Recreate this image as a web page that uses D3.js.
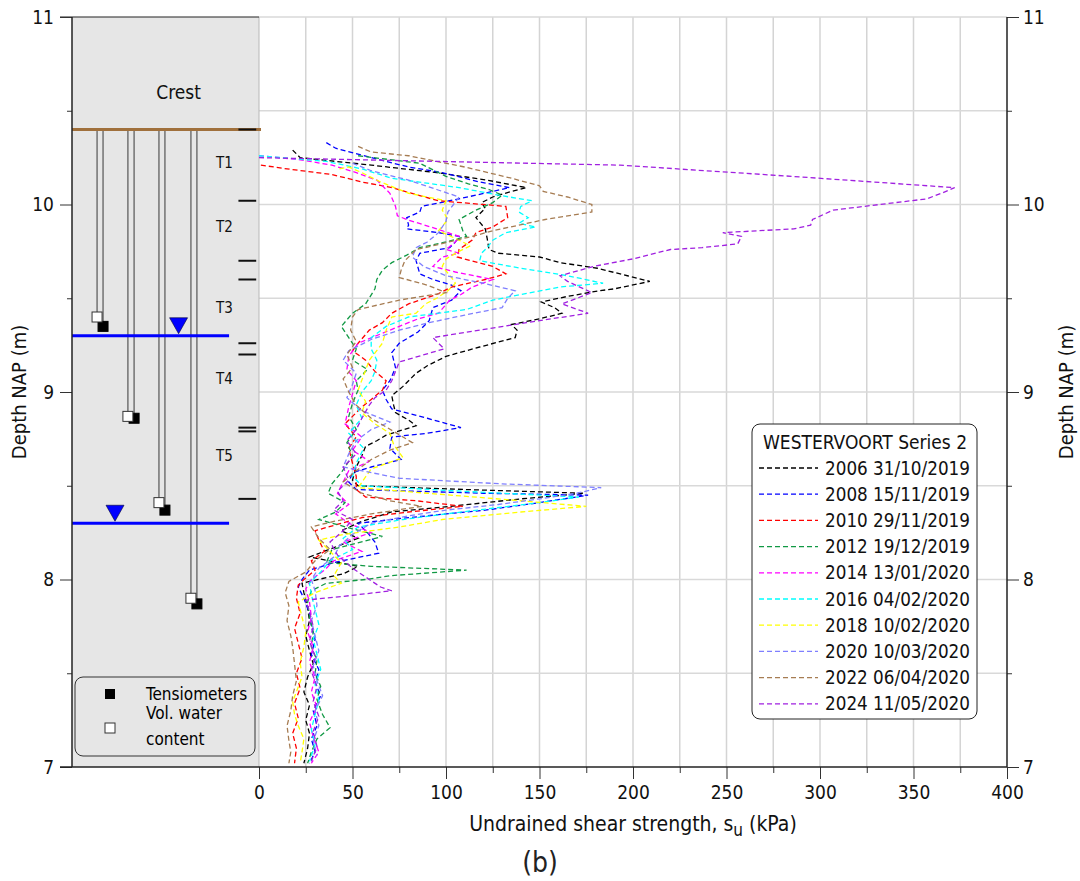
<!DOCTYPE html>
<html>
<head>
<meta charset="utf-8">
<script src="https://cdn.jsdelivr.net/npm/d3@7"></script>
<style>
  body { margin: 0; background: #fff; }
  svg { display: block; font-family: "DejaVu Sans Condensed", "DejaVu Sans", sans-serif; }
</style>
</head>
<body>
<div id="chart"></div>
<script>
// Series: [depth NAP (m), su (kPa)]
const s2006 = [[10.29,18],[10.25,22],[10.21,60],[10.17,95],[10.13,122],[10.09,143],[10.07,135],[10.04,125],[10.01,119],[9.98,121],[9.93,116],[9.87,121],[9.82,122],[9.76,123],[9.74,128],[9.72,150],[9.69,161],[9.66,181],[9.62,197],[9.59,209],[9.55,190],[9.54,182],[9.51,165],[9.48,151],[9.45,158],[9.42,162],[9.39,150],[9.36,135],[9.33,138],[9.29,137],[9.24,118],[9.19,100],[9.14,90],[9.10,84],[9.03,77],[8.98,71],[8.93,72],[8.89,73],[8.85,80],[8.82,84],[8.77,68],[8.74,63],[8.71,57],[8.66,55],[8.60,52],[8.53,50],[8.50,53],[8.48,110],[8.46,174],[8.43,140],[8.39,102],[8.36,71],[8.31,55],[8.26,44],[8.22,53],[8.17,40],[8.12,27],[8.07,53],[8.03,45],[8.01,36],[7.98,23],[7.93,24],[7.85,26],[7.78,27],[7.70,25],[7.62,27],[7.55,29],[7.48,26],[7.40,24],[7.33,27],[7.25,25],[7.18,27],[7.10,26],[7.02,24]];
const s2008 = [[10.33,36],[10.30,41],[10.25,60],[10.20,80],[10.17,98],[10.12,118],[10.09,134],[10.07,125],[10.03,107],[9.99,87],[9.96,86],[9.93,79],[9.89,80],[9.87,79],[9.85,96],[9.83,107],[9.80,105],[9.77,102],[9.74,86],[9.70,84],[9.63,86],[9.60,93],[9.57,103],[9.54,108],[9.49,103],[9.45,93],[9.38,91],[9.32,85],[9.26,75],[9.21,71],[9.13,73],[9.06,70],[9.01,66],[8.96,68],[8.91,71],[8.86,90],[8.81,108],[8.78,90],[8.76,71],[8.70,70],[8.64,76],[8.60,60],[8.57,50],[8.52,48],[8.48,52],[8.46,120],[8.45,176],[8.41,150],[8.37,121],[8.33,80],[8.30,53],[8.25,58],[8.20,62],[8.14,64],[8.09,40],[8.05,27],[8.00,23],[7.96,21],[7.90,24],[7.82,27],[7.75,28],[7.68,30],[7.60,28],[7.52,32],[7.45,30],[7.38,33],[7.30,29],[7.22,31],[7.15,28],[7.08,30],[7.02,27]];
const s2010 = [[10.21,1],[10.19,15],[10.16,39],[10.12,55],[10.09,71],[10.05,85],[10.02,96],[9.99,132],[9.93,133],[9.88,125],[9.85,116],[9.81,114],[9.76,107],[9.72,106],[9.67,125],[9.63,132],[9.60,121],[9.56,103],[9.52,95],[9.47,80],[9.42,71],[9.37,66],[9.33,59],[9.26,53],[9.22,50],[9.17,57],[9.11,62],[9.06,68],[9.01,66],[8.96,60],[8.92,55],[8.83,46],[8.76,52],[8.70,48],[8.62,50],[8.55,52],[8.48,52],[8.44,57],[8.42,84],[8.39,109],[8.36,80],[8.33,55],[8.30,44],[8.26,30],[8.21,32],[8.15,35],[8.10,28],[8.05,30],[8.00,24],[7.97,21],[7.90,20],[7.82,22],[7.74,19],[7.66,21],[7.58,23],[7.50,20],[7.42,22],[7.34,19],[7.26,21],[7.18,18],[7.10,20],[7.02,19]];
const s2012 = [[10.26,53],[10.22,86],[10.15,100],[10.11,112],[10.08,123],[10.05,130],[10.01,125],[9.97,116],[9.92,107],[9.86,109],[9.83,111],[9.80,100],[9.77,86],[9.73,79],[9.69,71],[9.65,66],[9.60,63],[9.55,62],[9.47,57],[9.42,50],[9.35,44],[9.29,48],[9.23,52],[9.17,50],[9.12,58],[9.06,52],[9.01,53],[8.94,50],[8.87,48],[8.80,52],[8.73,47],[8.66,50],[8.57,44],[8.51,39],[8.46,37],[8.41,46],[8.36,41],[8.32,32],[8.27,50],[8.23,66],[8.16,39],[8.09,36],[8.07,60],[8.05,111],[8.02,70],[8.00,57],[7.98,36],[7.94,28],[7.88,26],[7.80,27],[7.72,29],[7.64,28],[7.57,31],[7.50,30],[7.43,33],[7.36,31],[7.28,34],[7.21,38],[7.15,31],[7.08,28],[7.02,26]];
const s2014 = [[10.26,0],[10.24,21],[10.21,39],[10.17,52],[10.13,63],[10.06,70],[9.99,73],[9.94,74],[9.92,79],[9.87,95],[9.83,107],[9.80,105],[9.76,100],[9.74,107],[9.72,98],[9.67,93],[9.64,105],[9.60,125],[9.56,114],[9.52,108],[9.49,102],[9.42,96],[9.39,85],[9.33,70],[9.26,53],[9.19,48],[9.12,47],[9.06,52],[8.99,50],[8.92,48],[8.83,46],[8.76,55],[8.69,50],[8.63,59],[8.58,48],[8.52,45],[8.46,42],[8.40,48],[8.35,41],[8.30,48],[8.25,60],[8.20,45],[8.15,55],[8.10,40],[8.05,35],[8.00,28],[7.95,25],[7.88,27],[7.80,28],[7.72,26],[7.64,29],[7.56,27],[7.48,30],[7.40,28],[7.32,31],[7.24,27],[7.16,29],[7.08,32],[7.02,28]];
const s2016 = [[10.26,0],[10.23,36],[10.19,55],[10.14,71],[10.09,107],[10.05,128],[10.02,146],[9.99,140],[9.96,139],[9.93,144],[9.90,139],[9.88,148],[9.85,132],[9.81,125],[9.77,122],[9.74,119],[9.70,118],[9.66,140],[9.62,165],[9.58,184],[9.56,161],[9.52,140],[9.49,125],[9.44,111],[9.40,80],[9.35,68],[9.29,60],[9.23,60],[9.17,63],[9.11,62],[9.06,60],[9.00,55],[8.93,52],[8.86,55],[8.78,48],[8.70,56],[8.62,52],[8.55,50],[8.50,55],[8.47,110],[8.44,171],[8.41,150],[8.38,125],[8.35,100],[8.32,77],[8.28,53],[8.22,45],[8.16,50],[8.10,38],[8.04,33],[7.98,27],[7.92,28],[7.84,30],[7.76,32],[7.68,29],[7.60,31],[7.52,33],[7.44,30],[7.36,32],[7.28,30],[7.20,28],[7.12,30],[7.03,27]];
const s2018 = [[10.19,43],[10.20,48],[10.17,55],[10.12,65],[10.06,80],[10.02,100],[9.97,98],[9.92,101],[9.86,96],[9.81,107],[9.78,113],[9.75,107],[9.71,100],[9.67,98],[9.61,103],[9.58,105],[9.54,101],[9.50,95],[9.47,89],[9.42,84],[9.40,71],[9.33,68],[9.26,66],[9.17,59],[9.09,56],[9.01,53],[8.95,57],[8.89,55],[8.83,62],[8.78,70],[8.72,72],[8.65,77],[8.59,60],[8.49,53],[8.46,90],[8.42,140],[8.39,175],[8.36,140],[8.32,98],[8.28,75],[8.24,45],[8.21,32],[8.15,38],[8.09,44],[8.02,40],[7.98,44],[7.93,30],[7.88,21],[7.80,23],[7.72,25],[7.64,24],[7.56,22],[7.48,23],[7.40,20],[7.35,18],[7.28,19],[7.22,21],[7.15,24],[7.08,23],[7.02,22]];
const s2020 = [[10.22,50],[10.18,60],[10.13,80],[10.08,95],[10.04,107],[10.00,104],[9.96,101],[9.91,100],[9.85,96],[9.80,90],[9.77,84],[9.72,82],[9.67,88],[9.62,100],[9.58,120],[9.54,137],[9.50,133],[9.45,130],[9.41,110],[9.37,91],[9.33,75],[9.28,60],[9.22,48],[9.17,45],[9.10,52],[9.04,50],[8.97,47],[8.90,55],[8.84,70],[8.80,60],[8.74,52],[8.67,48],[8.60,45],[8.54,75],[8.51,130],[8.49,183],[8.46,170],[8.43,150],[8.40,128],[8.37,100],[8.34,80],[8.30,60],[8.24,50],[8.18,43],[8.12,40],[8.06,32],[8.00,28],[7.94,30],[7.86,31],[7.78,28],[7.70,30],[7.62,32],[7.54,29],[7.46,31],[7.38,34],[7.30,30],[7.22,32],[7.14,29],[7.06,31]];
const s2022 = [[10.31,53],[10.28,60],[10.26,80],[10.20,110],[10.14,135],[10.10,150],[10.07,152],[10.04,165],[10.00,178],[9.96,178],[9.92,153],[9.86,125],[9.83,114],[9.77,89],[9.76,84],[9.70,78],[9.65,76],[9.61,75],[9.60,79],[9.57,90],[9.53,100],[9.49,75],[9.44,53],[9.40,50],[9.33,49],[9.27,52],[9.20,47],[9.13,50],[9.07,45],[9.00,48],[8.93,52],[8.86,60],[8.79,72],[8.73,82],[8.69,70],[8.64,60],[8.58,52],[8.52,45],[8.46,55],[8.42,70],[8.39,87],[8.35,60],[8.31,40],[8.28,28],[8.22,32],[8.16,38],[8.10,30],[8.04,25],[7.99,16],[7.93,14],[7.86,16],[7.78,15],[7.70,17],[7.64,18],[7.55,19],[7.46,20],[7.38,18],[7.30,17],[7.22,15],[7.14,16],[7.08,17],[7.02,16]];
const s2024 = [[10.25,0],[10.23,95],[10.21,193],[10.15,285],[10.09,372],[10.06,365],[10.03,357],[9.97,307],[9.92,296],[9.89,295],[9.87,286],[9.85,248],[9.83,258],[9.81,257],[9.79,256],[9.77,237],[9.76,220],[9.71,200],[9.67,179],[9.62,161],[9.59,165],[9.53,178],[9.47,162],[9.42,176],[9.37,143],[9.29,93],[9.23,99],[9.16,75],[9.06,71],[9.01,68],[8.97,62],[8.93,59],[8.86,55],[8.80,52],[8.74,47],[8.67,52],[8.60,45],[8.53,48],[8.47,42],[8.42,45],[8.37,40],[8.32,50],[8.26,45],[8.20,38],[8.13,42],[8.06,50],[8.00,59],[7.96,65],[7.94,71],[7.91,45],[7.89,25],[7.83,27],[7.75,29],[7.67,27],[7.59,30],[7.51,28],[7.43,31],[7.35,29],[7.27,32],[7.19,29],[7.11,31],[7.03,28]];

const seriesLabels = ['2006 31/10/2019','2008 15/11/2019','2010 29/11/2019','2012 19/12/2019','2014 13/01/2020','2016 04/02/2020','2018 10/02/2020','2020 10/03/2020','2022 06/04/2020','2024 11/05/2020'];
const seriesData = [s2006, s2008, s2010, s2012, s2014, s2016, s2018, s2020, s2022, s2024];
const seriesColors = ['#000000','#0000ff','#ff0000','#119944','#ff00ff','#00ffff','#ffff00','#7f7fff','#a67c52','#a020e0'];

// Left panel annotations
const crestLevel = 10.4;
const waterLevels = [9.3, 8.3];
const waterMarks = [[9.3, 57], [8.3, 23]];   // [depth, panel position %]
const layerTicks = [10.4, 10.02, 9.70, 9.60, 9.26, 9.20, 8.81, 8.79, 8.43];
const layerNames = ['T1','T2','T3','T4','T5'];
const layerLabelDepth = [10.22, 9.88, 9.45, 9.07, 8.66];
// tubes: [panel pos left, panel pos right, depth vol. water sensor, depth tensiometer]
const tubes = [[13.4, 16.6, 9.40, 9.35], [29.9, 33.2, 8.87, 8.86], [46.5, 49.7, 8.41, 8.37], [63.6, 66.8, 7.90, 7.87]];

const yMajor = [7, 8, 9, 10, 11];
const yMinor = [7.5, 8.5, 9.5, 10.5];
const xMajor = [0, 50, 100, 150, 200, 250, 300, 350, 400];
const xMinor = [25, 75, 125, 175, 225, 275, 325, 375];
const xGrid = d3.range(25, 400, 25);
const yGrid = [7.5, 8, 8.5, 9, 9.5, 10, 10.5, 11];

const W = 1080, H = 881;
const svg = d3.select('#chart').append('svg').attr('width', W).attr('height', H);

const y = d3.scaleLinear().domain([7, 11]).range([767, 17]);
const x = d3.scaleLinear().domain([0, 400]).range([259, 1007]);
const px = d3.scaleLinear().domain([0, 100]).range([72, 259]);

// Grid
svg.append('g').selectAll('line').data(xGrid).join('line')
  .attr('x1', d => x(d)).attr('x2', d => x(d)).attr('y1', y(7)).attr('y2', y(11))
  .attr('stroke', '#d4d4d4').attr('stroke-width', 1.5);
svg.append('g').selectAll('line').data(yGrid).join('line')
  .attr('x1', x(0)).attr('x2', x(400)).attr('y1', d => y(d)).attr('y2', d => y(d))
  .attr('stroke', '#d9d9d9').attr('stroke-width', 1.5);

// Left panel
svg.append('rect').attr('x', px(0)).attr('y', y(11)).attr('width', px(100) - px(0)).attr('height', y(7) - y(11))
  .attr('fill', '#e6e6e6').attr('stroke', 'none');
svg.append('line').attr('x1', px(100)).attr('x2', px(100)).attr('y1', y(11)).attr('y2', y(7))
  .attr('stroke', '#b8b8b8').attr('stroke-width', 1);
svg.append('line').attr('x1', px(0) - 12).attr('x2', px(100)).attr('y1', y(11)).attr('y2', y(11))
  .attr('stroke', '#222').attr('stroke-width', 1.2);

svg.append('text').attr('x', px(57)).attr('y', y(10.6)).attr('text-anchor', 'middle')
  .attr('dominant-baseline', 'central').attr('font-size', 19).attr('fill', '#111').text('Crest');

// tubes
tubes.forEach(t => {
  svg.append('line').attr('x1', px(t[0])).attr('x2', px(t[0])).attr('y1', y(crestLevel)).attr('y2', y(t[2]))
    .attr('stroke', '#555').attr('stroke-width', 1.2);
  svg.append('line').attr('x1', px(t[1])).attr('x2', px(t[1])).attr('y1', y(crestLevel)).attr('y2', y(t[3]))
    .attr('stroke', '#555').attr('stroke-width', 1.2);
});
// water levels
svg.append('g').selectAll('line').data(waterLevels).join('line')
  .attr('x1', px(0)).attr('x2', px(84)).attr('y1', d => y(d)).attr('y2', d => y(d))
  .attr('stroke', '#0000ff').attr('stroke-width', 3);
waterMarks.forEach(w => {
  const cx = px(w[1]), ty = y(w[0]) - 2;
  svg.append('path').attr('d', `M${cx - 9},${ty - 16}L${cx + 9},${ty - 16}L${cx},${ty}Z`)
    .attr('fill', '#0000ff').attr('stroke', '#000033').attr('stroke-width', 0.6);
});
// sensors
tubes.forEach(t => {
  svg.append('rect').attr('x', px(t[1]) - 5).attr('y', y(t[3]) - 5).attr('width', 10).attr('height', 10)
    .attr('fill', '#000').attr('stroke', '#000');
  svg.append('rect').attr('x', px(t[0]) - 5).attr('y', y(t[2]) - 5).attr('width', 10).attr('height', 10)
    .attr('fill', '#fff').attr('stroke', '#333').attr('stroke-width', 1);
});
// crest line
svg.append('line').attr('x1', px(0)).attr('x2', px(100) + 2).attr('y1', y(crestLevel)).attr('y2', y(crestLevel))
  .attr('stroke', '#a0703c').attr('stroke-width', 3);
// layer ticks
svg.append('g').selectAll('line').data(layerTicks).join('line')
  .attr('x1', px(89)).attr('x2', px(98.5)).attr('y1', d => y(d)).attr('y2', d => y(d))
  .attr('stroke', '#111').attr('stroke-width', 2);
svg.append('g').selectAll('text').data(layerNames).join('text')
  .attr('x', px(81.5)).attr('y', (d, i) => y(layerLabelDepth[i]))
  .attr('text-anchor', 'middle').attr('dominant-baseline', 'central')
  .attr('font-size', 15).attr('fill', '#111').text(d => d);

// left legend
const ll = svg.append('g');
ll.append('rect').attr('x', 75).attr('y', 677).attr('width', 180).attr('height', 79).attr('rx', 8)
  .attr('fill', '#e6e6e6').attr('stroke', '#333').attr('stroke-width', 1);
ll.append('rect').attr('x', 105).attr('y', 689).attr('width', 10).attr('height', 10).attr('fill', '#000');
ll.append('rect').attr('x', 105).attr('y', 723).attr('width', 10).attr('height', 10).attr('fill', '#fff').attr('stroke', '#333');
ll.append('text').attr('x', 146).attr('y', 694).attr('dominant-baseline', 'central').attr('font-size', 17).text('Tensiometers');
ll.append('text').attr('x', 146).attr('y', 713).attr('dominant-baseline', 'central').attr('font-size', 17).text('Vol. water');
ll.append('text').attr('x', 146).attr('y', 739).attr('dominant-baseline', 'central').attr('font-size', 17).text('content');

// Series lines
const line = d3.line().x(d => x(d[1])).y(d => y(d[0]));
seriesData.forEach((s, i) => {
  svg.append('path').datum(s).attr('d', line)
    .attr('fill', 'none').attr('stroke', seriesColors[i]).attr('stroke-width', 1.3)
    .attr('stroke-dasharray', '5,3');
});

// Axes
const fontFam = '"DejaVu Sans Condensed", "DejaVu Sans", sans-serif';
function styleAxis(g) {
  g.select('.domain').remove();
  g.selectAll('line').attr('stroke', '#333');
  g.selectAll('text').attr('font-size', 19).attr('font-family', fontFam).attr('fill', '#111');
}
svg.append('g').attr('transform', `translate(${px(0)},0)`)
  .call(d3.axisLeft(y).tickValues(yMajor).tickSize(12).tickPadding(6).tickFormat(d3.format('d'))).call(styleAxis);
svg.append('g').attr('transform', `translate(${px(0)},0)`)
  .call(d3.axisLeft(y).tickValues(yMinor).tickSize(5).tickFormat('')).call(styleAxis);
svg.append('g').attr('transform', `translate(${x(400)},0)`)
  .call(d3.axisRight(y).tickValues(yMajor).tickSize(12).tickPadding(4).tickFormat(d3.format('d'))).call(styleAxis);
svg.append('g').attr('transform', `translate(${x(400)},0)`)
  .call(d3.axisRight(y).tickValues(yMinor).tickSize(5).tickFormat('')).call(styleAxis);
svg.append('g').attr('transform', `translate(0,${y(7)})`)
  .call(d3.axisBottom(x).tickValues(xMajor).tickSize(12).tickPadding(7)).call(styleAxis);
svg.append('g').attr('transform', `translate(0,${y(7)})`)
  .call(d3.axisBottom(x).tickValues(xMinor).tickSize(6).tickFormat('')).call(styleAxis);

// axis lines
svg.append('line').attr('x1', px(0)).attr('x2', px(0)).attr('y1', y(11)).attr('y2', y(7)).attr('stroke', '#222').attr('stroke-width', 1.5);
svg.append('line').attr('x1', x(400)).attr('x2', x(400)).attr('y1', y(11)).attr('y2', y(7)).attr('stroke', '#222').attr('stroke-width', 1.5);
svg.append('line').attr('x1', px(0) - 12).attr('x2', x(400)).attr('y1', y(7)).attr('y2', y(7)).attr('stroke', '#222').attr('stroke-width', 1.5);

// Axis titles
svg.append('text').attr('transform', `translate(19,${y(9)}) rotate(-90)`).attr('text-anchor', 'middle')
  .attr('dominant-baseline', 'central').attr('font-size', 20).attr('fill', '#111').text('Depth NAP (m)');
svg.append('text').attr('transform', `translate(1066,${y(9)}) rotate(-90)`).attr('text-anchor', 'middle')
  .attr('dominant-baseline', 'central').attr('font-size', 20).attr('fill', '#111').text('Depth NAP (m)');
const xt = svg.append('text').attr('x', x(200)).attr('y', 831).attr('text-anchor', 'middle')
  .attr('font-size', 21).attr('fill', '#111');
xt.append('tspan').text('Undrained shear strength, s');
xt.append('tspan').attr('dy', 5).attr('font-size', 17).text('u');
xt.append('tspan').attr('dy', -5).text(' (kPa)');
svg.append('text').attr('x', 540).attr('y', 862).attr('text-anchor', 'middle')
  .attr('dominant-baseline', 'central').attr('font-size', 28).attr('fill', '#222').text('(b)');

// Main legend
const lg = svg.append('g');
lg.append('rect').attr('x', 752).attr('y', 424).attr('width', 225).attr('height', 295).attr('rx', 8)
  .attr('fill', '#fff').attr('stroke', '#222').attr('stroke-width', 1);
lg.append('text').attr('x', 865).attr('y', 442).attr('text-anchor', 'middle').attr('dominant-baseline', 'central')
  .attr('font-size', 19).attr('fill', '#111').text('WESTERVOORT Series 2');
seriesLabels.forEach((lab, i) => {
  const ly = 468 + i * 26.2;
  lg.append('line').attr('x1', 759).attr('x2', 818).attr('y1', ly).attr('y2', ly)
    .attr('stroke', seriesColors[i]).attr('stroke-width', 1.3).attr('stroke-dasharray', '5,3');
  lg.append('text').attr('x', 825).attr('y', ly).attr('dominant-baseline', 'central')
    .attr('font-size', 18.7).attr('fill', '#111').text(lab);
});
</script>
</body>
</html>
